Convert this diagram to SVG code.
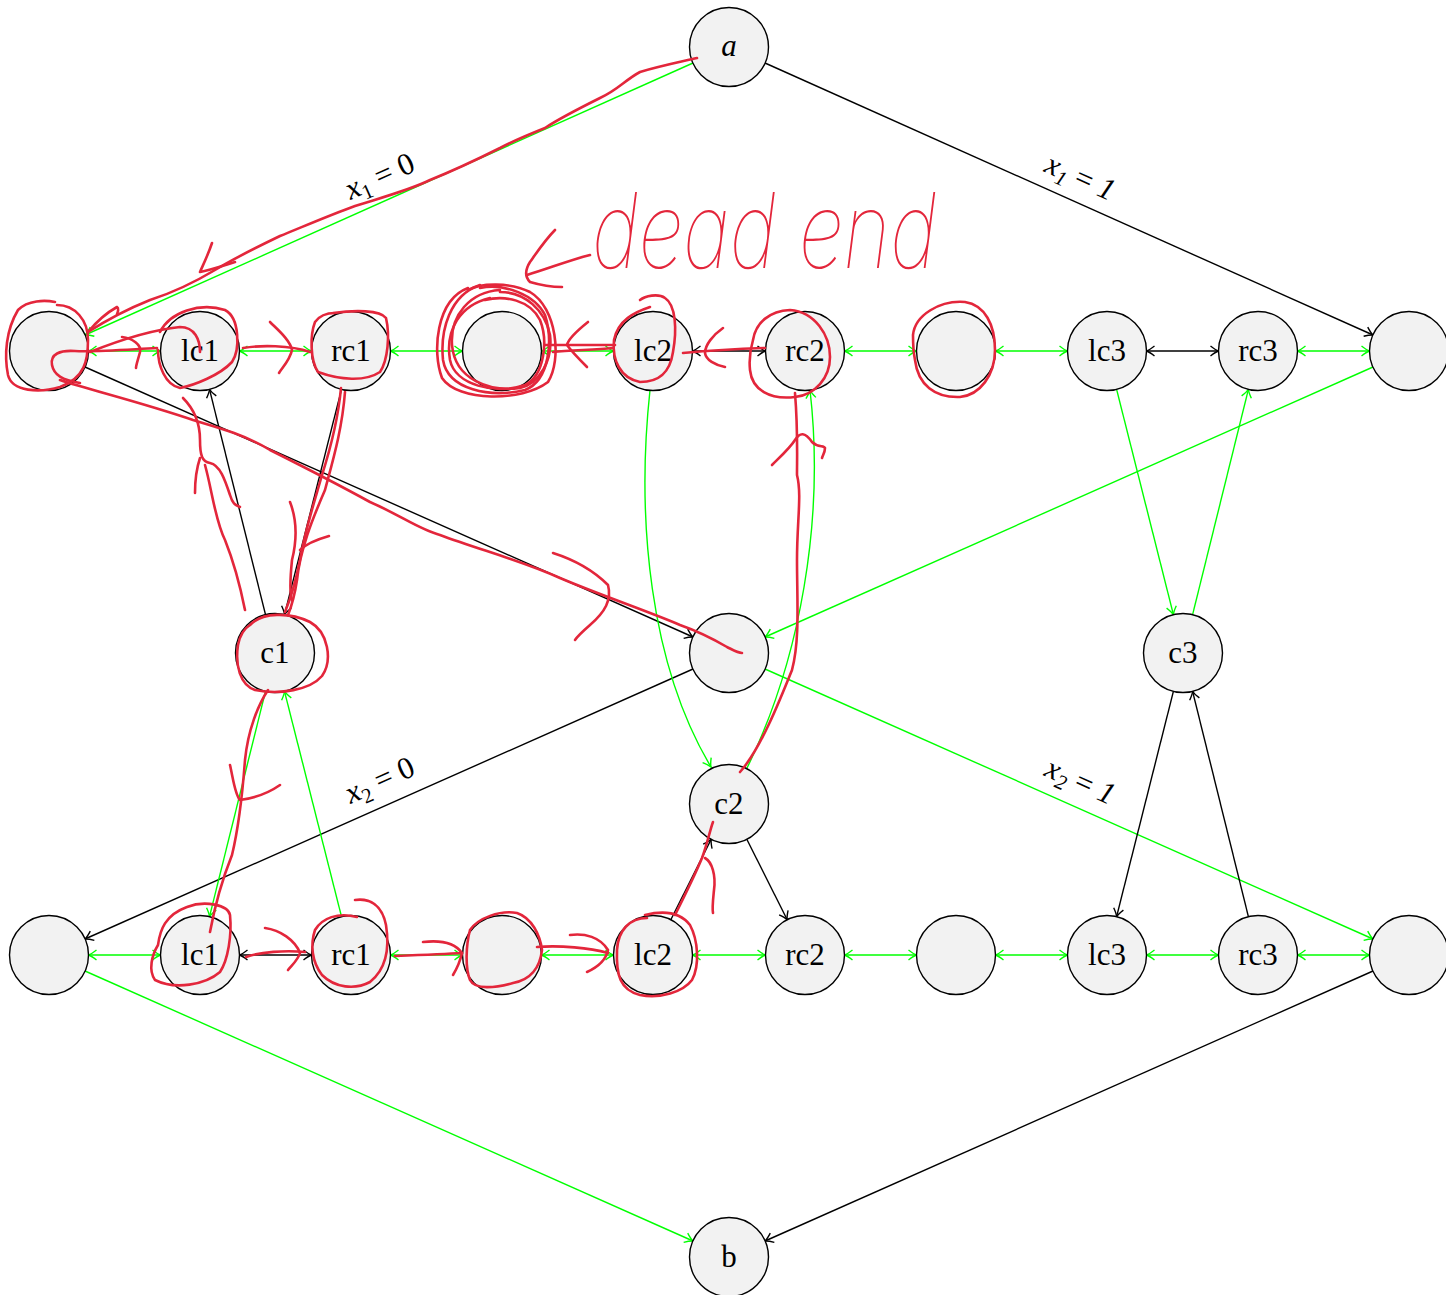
<svg xmlns="http://www.w3.org/2000/svg" width="1446" height="1295" viewBox="0 0 1446 1295">
<style>
.n circle{fill:#f2f2f2;stroke:#000;stroke-width:1.4}
.n text{font-family:"Liberation Serif",serif;font-size:31px;text-anchor:middle;fill:#000}
.k{stroke:#000;stroke-width:1.4;fill:none}
.g{stroke:#00ff00;stroke-width:1.4;fill:none}
.lbl{font-family:"Liberation Serif",serif;font-size:31px;text-anchor:middle;fill:#000}
.r{stroke:#e3263b;stroke-width:2.6;fill:none;stroke-linecap:round;stroke-linejoin:round}
</style>
<defs>
<marker id="ak" viewBox="-10 -7 12 14" refX="0" refY="0" markerWidth="12" markerHeight="14" markerUnits="userSpaceOnUse" orient="auto-start-reverse"><path d="M-8,-5 Q-3,-1 0,0 Q-3,1 -8,5" fill="none" stroke="#000" stroke-width="1.4"/></marker>
<marker id="ag" viewBox="-10 -7 12 14" refX="0" refY="0" markerWidth="12" markerHeight="14" markerUnits="userSpaceOnUse" orient="auto-start-reverse"><path d="M-8,-5 Q-3,-1 0,0 Q-3,1 -8,5" fill="none" stroke="#00ff00" stroke-width="1.4"/></marker>
</defs>
<rect width="1446" height="1295" fill="#fff"/>
<g id="connectors">
<path class="g" d="M693,63 L85,335" marker-end="url(#ag)"/>
<path class="k" d="M765,63 L1373,335" marker-end="url(#ak)"/>
<path class="k" d="M85,367 L693,637" marker-end="url(#ak)"/>
<path class="g" d="M1373,367 L765,637" marker-end="url(#ag)"/>
<path class="k" d="M693,669 L85,939" marker-end="url(#ak)"/>
<path class="g" d="M765,669 L1373,939" marker-end="url(#ag)"/>
<path class="g" d="M85,971 L693,1241" marker-end="url(#ag)"/>
<path class="k" d="M1373,971 L765,1241" marker-end="url(#ak)"/>
<path class="g" d="M88.5,351 H160.5" marker-start="url(#ag)" marker-end="url(#ag)"/>
<path class="g" d="M239.5,351 H311.5" marker-start="url(#ag)" marker-end="url(#ag)"/>
<path class="g" d="M390.5,351 H462.5" marker-start="url(#ag)" marker-end="url(#ag)"/>
<path class="g" d="M541.5,351 H613.5" marker-start="url(#ag)" marker-end="url(#ag)"/>
<path class="k" d="M692.5,351 H765.5" marker-start="url(#ak)" marker-end="url(#ak)"/>
<path class="g" d="M844.5,351 H916.5" marker-start="url(#ag)" marker-end="url(#ag)"/>
<path class="g" d="M995.5,351 H1067.5" marker-start="url(#ag)" marker-end="url(#ag)"/>
<path class="k" d="M1146.5,351 H1218.5" marker-start="url(#ak)" marker-end="url(#ak)"/>
<path class="g" d="M1297.5,351 H1369.5" marker-start="url(#ag)" marker-end="url(#ag)"/>
<path class="g" d="M88.5,955 H160.5" marker-start="url(#ag)" marker-end="url(#ag)"/>
<path class="k" d="M239.5,955 H311.5" marker-start="url(#ak)" marker-end="url(#ak)"/>
<path class="g" d="M390.5,955 H462.5" marker-start="url(#ag)" marker-end="url(#ag)"/>
<path class="g" d="M541.5,955 H613.5" marker-start="url(#ag)" marker-end="url(#ag)"/>
<path class="g" d="M692.5,955 H765.5" marker-start="url(#ag)" marker-end="url(#ag)"/>
<path class="g" d="M844.5,955 H916.5" marker-start="url(#ag)" marker-end="url(#ag)"/>
<path class="g" d="M995.5,955 H1067.5" marker-start="url(#ag)" marker-end="url(#ag)"/>
<path class="g" d="M1146.5,955 H1218.5" marker-start="url(#ag)" marker-end="url(#ag)"/>
<path class="g" d="M1297.5,955 H1369.5" marker-start="url(#ag)" marker-end="url(#ag)"/>
<path class="k" d="M265.5,614.7 L209.5,389.3" marker-end="url(#ak)"/>
<path class="k" d="M341.5,389.3 L284.5,614.7" marker-end="url(#ak)"/>
<path class="g" d="M265.5,691.3 L209.5,916.7" marker-end="url(#ag)"/>
<path class="g" d="M341.5,916.7 L284.5,691.3" marker-end="url(#ag)"/>
<path class="g" d="M1116.6,389.3 L1173.4,614.7" marker-end="url(#ag)"/>
<path class="g" d="M1192.6,614.7 L1248.4,389.3" marker-end="url(#ag)"/>
<path class="k" d="M1173.4,691.3 L1116.6,916.7" marker-end="url(#ak)"/>
<path class="k" d="M1248.4,916.7 L1192.6,691.3" marker-end="url(#ak)"/>
<path class="g" d="M650,390 C636,520 650,665 711,767" marker-end="url(#ag)"/>
<path class="g" d="M747,768 C800,660 825,520 810,390" marker-end="url(#ag)"/>
<path class="k" d="M670.8,919.7 L711.2,839.3" marker-end="url(#ak)"/>
<path class="k" d="M746.8,839.3 L787.2,919.7" marker-end="url(#ak)"/>
<text class="lbl" transform="translate(380,177) rotate(-24.1)" y="9"><tspan font-style="italic">x</tspan><tspan font-size="21" dy="6">1</tspan><tspan dy="-6"> = 0</tspan></text>
<text class="lbl" transform="translate(1080,178) rotate(24.1)" y="9"><tspan font-style="italic">x</tspan><tspan font-size="21" dy="6" font-style="italic">1</tspan><tspan dy="-6"> = </tspan><tspan font-style="italic">1</tspan></text>
<text class="lbl" transform="translate(380,781) rotate(-24.1)" y="9"><tspan font-style="italic">x</tspan><tspan font-size="21" dy="6">2</tspan><tspan dy="-6"> = 0</tspan></text>
<text class="lbl" transform="translate(1080,782) rotate(24.1)" y="9"><tspan font-style="italic">x</tspan><tspan font-size="21" dy="6" font-style="italic">2</tspan><tspan dy="-6"> = </tspan><tspan font-style="italic">1</tspan></text>
</g>
<g id="node-a" class="n"><circle cx="729" cy="47" r="39.5"/><text x="729" y="56" font-style="italic">a</text></g>
<g id="node-r1-0" class="n"><circle cx="49" cy="351" r="39.5"/></g>
<g id="node-r1-lc1" class="n"><circle cx="200" cy="351" r="39.5"/><text x="200" y="361">lc1</text></g>
<g id="node-r1-rc1" class="n"><circle cx="351" cy="351" r="39.5"/><text x="351" y="361">rc1</text></g>
<g id="node-r1-3" class="n"><circle cx="502" cy="351" r="39.5"/></g>
<g id="node-r1-lc2" class="n"><circle cx="653" cy="351" r="39.5"/><text x="653" y="361">lc2</text></g>
<g id="node-r1-rc2" class="n"><circle cx="805" cy="351" r="39.5"/><text x="805" y="361">rc2</text></g>
<g id="node-r1-6" class="n"><circle cx="956" cy="351" r="39.5"/></g>
<g id="node-r1-lc3" class="n"><circle cx="1107" cy="351" r="39.5"/><text x="1107" y="361">lc3</text></g>
<g id="node-r1-rc3" class="n"><circle cx="1258" cy="351" r="39.5"/><text x="1258" y="361">rc3</text></g>
<g id="node-r1-9" class="n"><circle cx="1409" cy="351" r="39.5"/></g>
<g id="node-c1" class="n"><circle cx="275" cy="653" r="39.5"/><text x="275" y="663">c1</text></g>
<g id="node-mid" class="n"><circle cx="729" cy="653" r="39.5"/></g>
<g id="node-c3" class="n"><circle cx="1183" cy="653" r="39.5"/><text x="1183" y="663">c3</text></g>
<g id="node-c2" class="n"><circle cx="729" cy="804" r="39.5"/><text x="729" y="814">c2</text></g>
<g id="node-r2-0" class="n"><circle cx="49" cy="955" r="39.5"/></g>
<g id="node-r2-lc1" class="n"><circle cx="200" cy="955" r="39.5"/><text x="200" y="965">lc1</text></g>
<g id="node-r2-rc1" class="n"><circle cx="351" cy="955" r="39.5"/><text x="351" y="965">rc1</text></g>
<g id="node-r2-3" class="n"><circle cx="502" cy="955" r="39.5"/></g>
<g id="node-r2-lc2" class="n"><circle cx="653" cy="955" r="39.5"/><text x="653" y="965">lc2</text></g>
<g id="node-r2-rc2" class="n"><circle cx="805" cy="955" r="39.5"/><text x="805" y="965">rc2</text></g>
<g id="node-r2-6" class="n"><circle cx="956" cy="955" r="39.5"/></g>
<g id="node-r2-lc3" class="n"><circle cx="1107" cy="955" r="39.5"/><text x="1107" y="965">lc3</text></g>
<g id="node-r2-rc3" class="n"><circle cx="1258" cy="955" r="39.5"/><text x="1258" y="965">rc3</text></g>
<g id="node-r2-9" class="n"><circle cx="1409" cy="955" r="39.5"/></g>
<g id="node-b" class="n"><circle cx="729" cy="1257" r="39.5"/><text x="729" y="1267">b</text></g>
<g id="annotations">
<path class="r" d="M697,58 C680,62 660,66 640,72 C625,80 618,90 600,98 C580,108 560,118 545,128 C530,134 515,140 500,148 C480,158 450,172 430,180 C410,190 380,198 355,206 C330,215 300,228 280,236 C255,248 235,258 215,270 C195,282 175,292 150,300 C130,308 110,318 88,332"/>
<path class="r" d="M88,332 C98,320 108,312 117,307 C119,308 118,312 117,314"/>
<path class="r" d="M212,243 C208,255 203,265 200,272 C210,270 225,265 235,262"/>
<path class="r" d="M57,305 C75,305 88,320 88,340 C88,360 85,378 60,387 C40,393 12,392 8,375 C4,355 6,330 18,310 C28,300 45,300 55,302"/>
<path class="r" d="M157,348 C120,350 95,352 75,351 C60,350 50,354 52,365 C54,375 62,380 80,383"/>
<path class="r" d="M122,337 C132,338 142,345 140,352 C138,360 136,365 136,368"/>
<path class="r" d="M90,352 C120,340 150,330 180,327 C195,327 200,340 200,352"/>
<path class="r" d="M160,332 C170,312 200,302 225,310 C240,318 240,350 232,362 C220,375 195,385 180,388 C165,385 158,365 158,350"/>
<path class="r" d="M243,348 C260,345 290,345 310,352"/>
<path class="r" d="M270,322 C278,330 290,340 292,350 C290,360 282,368 279,373"/>
<path class="r" d="M333,313 C355,310 380,310 386,318 C390,335 388,360 380,372 C365,382 340,380 318,372 C310,360 310,335 315,322 C320,315 328,313 335,313"/>
<path class="r" d="M341,388 C338,420 330,450 322,475 C315,500 305,530 300,560 C295,585 290,600 285,612"/>
<path class="r" d="M345,392 C342,430 333,460 325,490 C312,520 300,550 297,580 C294,600 290,610 288,615"/>
<path class="r" d="M329,536 C315,540 305,545 300,550"/>
<path class="r" d="M290,502 C297,520 297,540 292,560 C290,580 290,595 292,600"/>
<path class="r" d="M183,398 C195,410 200,425 200,440 C200,455 202,462 210,463 C220,465 225,480 230,495 C233,505 236,505 240,507"/>
<path class="r" d="M200,458 C196,470 195,485 195,493"/>
<path class="r" d="M205,465 C212,490 215,520 225,540 C235,565 240,585 245,610"/>
<path class="r" d="M250,625 C262,612 290,612 310,622 C328,632 333,660 322,676 C310,690 280,695 255,690 C240,685 235,665 238,645 C240,635 245,628 250,625"/>
<path class="r" d="M268,690 C258,705 248,730 245,760 C242,800 238,830 232,855 C222,880 215,905 210,932"/>
<path class="r" d="M230,765 C233,778 235,795 240,800 C255,798 270,792 280,785"/>
<path class="r" d="M187,907 C205,900 228,905 230,915 C232,935 228,960 220,972 C205,985 175,990 155,980 C148,970 152,955 158,945 C160,930 165,915 187,907"/>
<path class="r" d="M246,957 C260,952 285,950 305,952"/>
<path class="r" d="M265,928 C280,930 295,940 300,953 C298,960 292,965 288,970"/>
<path class="r" d="M355,900 C370,898 382,905 386,925 C390,950 385,970 370,982 C355,990 335,988 322,975 C312,962 310,945 315,930 C322,918 338,912 357,917"/>
<path class="r" d="M395,956 C420,955 445,954 462,953"/>
<path class="r" d="M423,942 C440,940 455,943 462,953 C460,962 456,970 453,975"/>
<path class="r" d="M470,930 C478,918 500,910 517,913 C532,918 540,935 542,950 C540,968 530,980 513,983 C495,988 475,990 470,980 C465,968 466,945 470,930"/>
<path class="r" d="M537,947 C560,945 590,948 608,953"/>
<path class="r" d="M570,935 C585,933 600,937 608,950 C606,960 598,967 587,972"/>
<path class="r" d="M647,918 C630,918 618,930 617,950 C616,975 620,990 640,995 C660,999 683,992 692,980 C700,965 698,940 690,925 C680,912 665,910 645,915"/>
<path class="r" d="M675,915 C685,895 695,875 702,858 C707,845 710,830 713,822"/>
<path class="r" d="M705,858 C712,862 716,875 714,890 C713,900 712,908 713,913"/>
<path class="r" d="M740,772 C760,750 780,700 792,670 C800,640 797,600 797,560 C797,520 802,495 797,475 C797,455 798,430 795,393"/>
<path class="r" d="M772,465 C780,457 790,448 795,440 C800,432 805,432 812,442 C818,448 824,445 825,448 C825,452 823,455 822,458"/>
<path class="r" d="M753,340 C756,322 770,311 790,310 C815,312 830,335 830,357 C830,378 815,395 795,397 C770,400 752,390 750,370 C749,360 750,350 753,340"/>
<path class="r" d="M683,353 C705,351 735,349 765,348"/>
<path class="r" d="M723,328 C713,335 705,345 705,353 C706,360 715,365 725,367"/>
<path class="r" d="M650,307 C635,312 618,320 614,340 C612,360 620,378 640,382 C660,382 670,372 673,352 C677,330 676,305 665,298 C658,293 645,296 640,300"/>
<path class="r" d="M545,345 C565,345 590,345 615,345"/>
<path class="r" d="M553,352 C570,350 595,350 613,348"/>
<path class="r" d="M588,322 C578,330 568,340 567,345 C572,352 580,360 587,367"/>
<path class="r" d="M468,288 C436,300 432,352 442,378 C458,402 522,402 548,382 C562,360 557,308 530,292 C510,282 480,283 468,290"/>
<path class="r" d="M480,285 C450,295 440,330 443,360 C448,390 490,398 525,390 C550,380 553,340 545,315 C535,295 505,283 480,288"/>
<path class="r" d="M490,298 C460,305 445,330 450,360 C455,385 495,395 525,385 C545,375 548,340 540,320 C530,300 505,295 485,300"/>
<path class="r" d="M500,290 C470,292 450,315 452,345 C455,380 490,392 520,388 C540,383 553,360 550,335 C545,310 525,292 500,292"/>
<path class="r" d="M913,335 C915,315 940,300 965,302 C985,305 995,325 995,350 C995,375 980,395 960,397 C935,398 918,385 915,360 C913,350 913,340 913,335"/>
<path class="r" d="M60,380 C90,390 140,402 193,420 C220,428 245,435 270,450 C300,465 330,480 370,502 C400,515 420,530 440,535 C480,550 520,560 560,578 C600,595 650,612 680,625 C700,632 715,640 727,647 C733,650 738,653 742,653"/>
<path class="r" d="M553,553 C575,560 595,572 608,585 C612,600 605,612 590,625 C582,632 577,637 575,640"/>
<path class="r" d="M527,275 C550,268 570,260 590,255"/>
<path class="r" d="M555,230 C545,240 535,255 530,262 C525,270 525,277 530,282 C540,285 552,287 562,287"/>
<text x="592" y="268" font-family="Inter, 'DejaVu Sans', sans-serif" font-weight="100" font-style="italic" font-size="104" fill="#e3263b" textLength="345" lengthAdjust="spacingAndGlyphs">dead end</text>
</g>
</svg>
